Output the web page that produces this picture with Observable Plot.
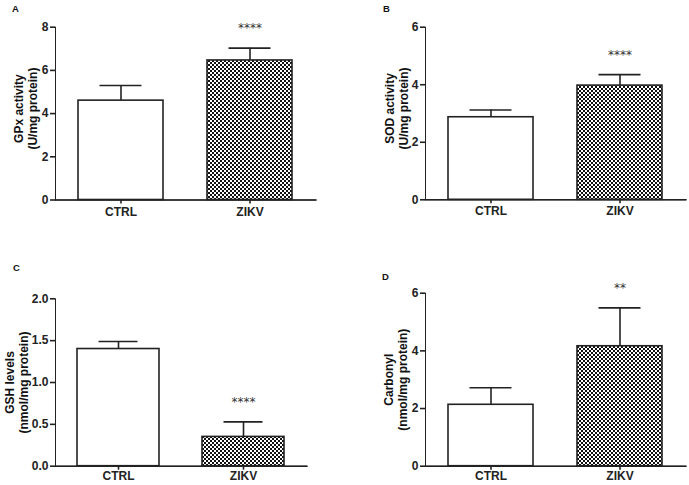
<!DOCTYPE html>
<html>
<head>
<meta charset="utf-8">
<script src="https://cdn.jsdelivr.net/npm/d3@7"></script>
<script src="https://cdn.jsdelivr.net/npm/@observablehq/plot@0.6"></script>
<style>
  html, body { margin: 0; padding: 0; background: #fff; }
  #fig { position: relative; width: 689px; height: 485px; overflow: hidden; background: #fff;
         font-family: "Liberation Sans", Arial, sans-serif; }
  #fig svg.panel { position: absolute; overflow: visible; }
  #fig svg.panel g[aria-label^="x-axis"], #fig svg.panel g[aria-label^="y-axis"],
  #fig svg.panel g[aria-label="frame"] { stroke-width: 1.6; }
  .letter { position: absolute; font-weight: bold; font-size: 9.5px; line-height: 1; color: #111; }
</style>
</head>
<body>
<div id="fig"></div>
<script>
// Groups shown on every panel
const groups = ["CTRL", "ZIKV"];

// A: GPx activity (U/mg protein), mean and SD
const gpxMean = [4.6, 6.46];
const gpxSd = [0.7, 0.57];
const gpxTicks = [0, 2, 4, 6, 8];

// B: SOD activity (U/mg protein)
const sodMean = [2.87, 3.97];
const sodSd = [0.25, 0.38];
const sodTicks = [0, 2, 4, 6];

// C: GSH levels (nmol/mg protein)
const gshMean = [1.40, 0.35];
const gshSd = [0.09, 0.18];
const gshTicks = [0, 0.5, 1.0, 1.5, 2.0];

// D: Carbonyl (nmol/mg protein)
const carMean = [2.13, 4.16];
const carSd = [0.59, 1.33];
const carTicks = [0, 2, 4, 6];

// Significance marks vs CTRL
const gpxSig = ["", "****"];
const sodSig = ["", "****"];
const gshSig = ["", "****"];
const carSig = ["", "**"];

const fig = document.getElementById("fig");

// Checkerboard fill used for the ZIKV bars
const defs = document.createElementNS("http://www.w3.org/2000/svg", "svg");
defs.setAttribute("width", 0);
defs.setAttribute("height", 0);
defs.style.position = "absolute";
defs.innerHTML = `
  <defs>
    <pattern id="checker" patternUnits="userSpaceOnUse" width="4" height="4">
      <rect width="4" height="4" fill="#fff"/>
      <rect x="0" y="0" width="2" height="2" fill="#111"/>
      <rect x="2" y="2" width="2" height="2" fill="#111"/>
    </pattern>
  </defs>`;
fig.appendChild(defs);

const panels = [
  {letter: "A", mean: gpxMean, sd: gpxSd, sig: gpxSig, ticks: gpxTicks, fmt: d3.format("d"),
   title: ["GPx activity", "(U/mg protein)"],
   left: 0, top: 0, width: 345, height: 242,
   margin: {top: 26.7, right: 29, bottom: 42.5, left: 55}, titleDx: -30, titleDy: -5,
   xPad: 3, letterAt: [12, 4]},
  {letter: "B", mean: sodMean, sd: sodSd, sig: sodSig, ticks: sodTicks, fmt: d3.format("d"),
   title: ["SOD activity", "(U/mg protein)"],
   left: 345, top: 0, width: 344, height: 242,
   margin: {top: 26.7, right: 3, bottom: 42.7, left: 80}, titleDx: -29, titleDy: -5,
   xPad: 3, letterAt: [383, 4]},
  {letter: "C", mean: gshMean, sd: gshSd, sig: gshSig, ticks: gshTicks, fmt: d3.format(".1f"),
   title: ["GSH levels", "(nmol/mg protein)"],
   left: 0, top: 242, width: 345, height: 243,
   margin: {top: 56.3, right: 38, bottom: 19.3, left: 55}, titleDx: -39, titleDy: 0,
   xPad: 1, letterAt: [13, 263]},
  {letter: "D", mean: carMean, sd: carSd, sig: carSig, ticks: carTicks, fmt: d3.format("d"),
   title: ["Carbonyl", "(nmol/mg protein)"],
   left: 345, top: 242, width: 344, height: 243,
   margin: {top: 50.7, right: 3, bottom: 19.3, left: 80}, titleDx: -30, titleDy: 0,
   xPad: 1, letterAt: [382, 272]}
];

const ink = "#222";

for (const p of panels) {
  const data = groups.map((g, i) => ({group: g, mean: p.mean[i], sd: p.sd[i], sig: p.sig[i]}));
  const yMax = p.ticks[p.ticks.length - 1];

  const svg = Plot.plot({
    width: p.width,
    height: p.height,
    marginTop: p.margin.top,
    marginRight: p.margin.right,
    marginBottom: p.margin.bottom,
    marginLeft: p.margin.left,
    style: {fontFamily: '"Liberation Sans", Arial, sans-serif', fontSize: "12px", fontWeight: "bold",
            color: ink, background: "transparent", overflow: "visible"},
    x: {domain: groups, paddingInner: 0.34, paddingOuter: 0.175, tickSize: 4, tickPadding: p.xPad,
        line: true, label: null},
    y: {domain: [0, yMax], ticks: p.ticks, tickFormat: p.fmt, tickSize: 5, tickPadding: 2,
        line: true, label: null},
    marks: [
      Plot.barY(data.filter(d => d.group === "CTRL"),
        {x: "group", y: "mean", fill: "white", stroke: ink, strokeWidth: 1.6}),
      Plot.barY(data.filter(d => d.group === "ZIKV"),
        {x: "group", y: "mean", fill: "url(#checker)", stroke: ink, strokeWidth: 1.6}),
      Plot.ruleX(data, {x: "group", y1: "mean", y2: d => d.mean + d.sd, stroke: ink, strokeWidth: 1.6}),
      Plot.tickY(data, {x: "group", y: d => d.mean + d.sd, insetLeft: 21.5, insetRight: 21.5,
        stroke: ink, strokeWidth: 1.6}),
      Plot.ruleY([0], {stroke: ink, strokeWidth: 1.6}),
      Plot.text(data.filter(d => d.sig), {x: "group", y: d => d.mean + d.sd, text: "sig", dy: -20,
        fontFamily: '"DejaVu Sans", sans-serif', fontWeight: "normal", fontSize: 12, fill: "#333"}),
      Plot.text([p.title.join("\n")], {frameAnchor: "left", rotate: -90, dx: p.titleDx, dy: p.titleDy,
        textAnchor: "middle", lineAnchor: "middle", lineHeight: 1.17, fontSize: 12, fill: "#111"})
    ]
  });
  svg.classList.add("panel");
  svg.style.left = p.left + "px";
  svg.style.top = p.top + "px";
  fig.appendChild(svg);

  const lab = document.createElement("div");
  lab.className = "letter";
  lab.textContent = p.letter;
  lab.style.left = p.letterAt[0] + "px";
  lab.style.top = p.letterAt[1] + "px";
  fig.appendChild(lab);
}
</script>
</body>
</html>
